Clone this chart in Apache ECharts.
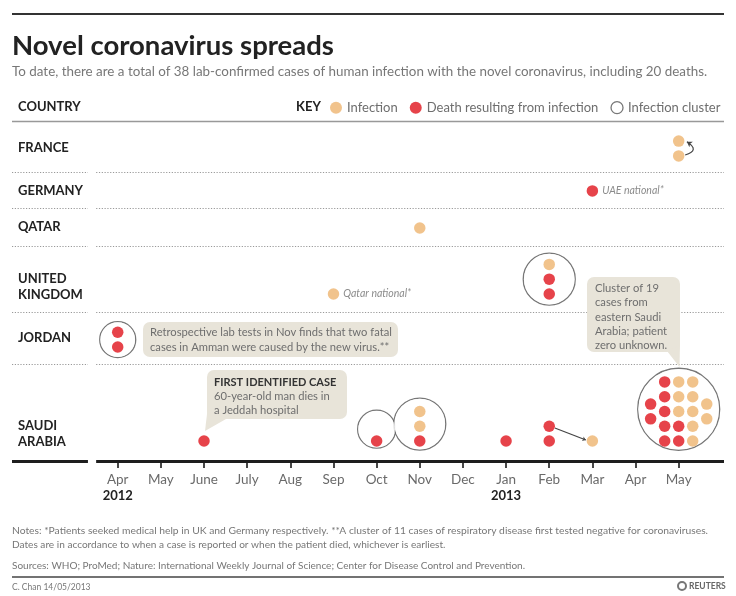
<!DOCTYPE html>
<html><head><meta charset="utf-8">
<script src="https://cdn.jsdelivr.net/npm/echarts@6/dist/echarts.min.js"></script>
<style>html,body{margin:0;padding:0;background:#fff}#c{width:736px;height:596px}</style>
</head><body><div id="c"></div>
<script>
// ---------------- DATA ----------------
const months = ['Apr','May','June','July','Aug','Sep','Oct','Nov','Dec','Jan','Feb','Mar','Apr','May'];
const yearLabels = ['2012','','','','','','','','','2013','','','',''];
const countries = ['FRANCE','GERMANY','QATAR','UNITED\nKINGDOM','JORDAN','SAUDI\nARABIA'];
// each case: [country index, month index (0 = Apr 2012), column in stack, level in stack]
const infections = [
  [0,13,0,0],[0,13,0,1],
  [2,7,0,0],
  [3,5,0,0],[3,10,0,2],
  [5,7,0,1],[5,7,0,2],[5,11,0,0],
  [5,13,0,2],[5,13,0,3],[5,13,0,4],
  [5,13,1,0],[5,13,1,1],[5,13,1,2],[5,13,1,3],[5,13,1,4],
  [5,13,2,1.5],[5,13,2,2.5]
];
const deaths = [
  [1,11,0,0],
  [3,10,0,0],[3,10,0,1],
  [4,0,0,0],[4,0,0,1],
  [5,2,0,0],[5,6,0,0],[5,7,0,0],[5,9,0,0],[5,10,0,0],[5,10,0,1],
  [5,13,-2,1.5],[5,13,-2,2.5],
  [5,13,-1,0],[5,13,-1,1],[5,13,-1,2],[5,13,-1,3],[5,13,-1,4],
  [5,13,0,0],[5,13,0,1]
];
// infection clusters: [country index, month index, centre level]
const clusters = [[4,0,0.5],[3,10,1],[5,6,0.8],[5,7,1.15],[5,13,2.15]];
// notes attached to single cases: [series, case index, text]
const caseNotes = [['death',0,'UAE national*'],['infection',3,'Qatar national*']];
const title = 'Novel coronavirus spreads';
const subtitle = 'To date, there are a total of 38 lab-confirmed cases of human infection with the novel coronavirus, including 20 deaths.';
const notes1 = 'Notes: *Patients seeked medical help in UK and Germany respectively. **A cluster of 11 cases of respiratory disease first tested negative for coronaviruses.';
const notes2 = 'Dates are in accordance to when a case is reported or when the patient died, whichever is earliest.';
const sources = 'Sources: WHO; ProMed; Nature: International Weekly Journal of Science; Center for Disease Control and Prevention.';
const credit = 'C. Chan 14/05/2013';

// ---------------- LAYOUT ----------------
const rowBase = [20.64, 18.27, 15.76, 11.3, 7.71, 1.35];
const labelLevel = [21.22, 18.27, 15.81, 11.76, 8.32, 1.83];
const separators = [19.51, 17.1, 14.55, 10.03, 6.54];
const clusterSizes = [36, 52, 38, 52, 82];
const colStep = 0.325;
const XMIN = -2.45, XMAX = 14.05, GAP_L = -0.69, GAP_R = -0.5;
const ORANGE = '#EDB46F', RED = '#E0141D', BOX = '#E8E4D9', GREY = '#6e6e6e';
const F = 'Lato, "Open Sans", sans-serif';

function pt(c) { return [c[1] + c[2]*colStep, rowBase[c[0]] + c[3]]; }
function noteFor(kind, i) {
  const n = caseNotes.find(d => d[0] === kind && d[1] === i);
  return n ? {show:true, position:'right', distance:4, formatter:n[2], color:GREY,
    fontSize:10.5, fontStyle:'italic', fontFamily:F} : {show:false};
}
const infData = infections.map((c,i) => ({value:pt(c), label:noteFor('infection',i)}));
const deathData = deaths.map((c,i) => ({value:pt(c), label:noteFor('death',i)}));
const clusterData = clusters.map(c => [c[1], rowBase[c[0]] + c[2]]);

const sepLines = [];
separators.concat([0]).forEach(y => {
  sepLines.push([{coord:[XMIN,y]},{coord:[GAP_L,y]}]);
  sepLines.push([{coord:[GAP_R,y]},{coord:[XMAX,y]}]);
});
const monthIdx = months.map((m,i)=>i);

const chart = echarts.init(document.getElementById('c'), null, {renderer:'canvas'});
const option = {
  animation:false,
  backgroundColor:'#fff',
  textStyle:{fontFamily:F},
  grid:{left:12, right:12, top:121, bottom:135, containLabel:false},
  legend:{
    left:330, top:101, padding:0, itemWidth:12, itemHeight:12, itemGap:12, selectedMode:false,
    textStyle:{fontSize:13, color:GREY, fontFamily:F},
    data:[
      {name:'Infection', icon:'circle', itemStyle:{color:ORANGE}},
      {name:'Death resulting from infection', icon:'circle', itemStyle:{color:RED}},
      {name:'Infection cluster', icon:'circle', itemStyle:{color:'#fff', borderColor:'#555', borderWidth:1.3}}
    ]
  },
  xAxis:{
    type:'value', min:XMIN, max:XMAX,
    axisLine:{show:false}, splitLine:{show:false},
    axisTick:{show:true, customValues:monthIdx, length:7, lineStyle:{color:'#333', width:1.8}},
    axisLabel:{
      customValues:monthIdx, margin:11, color:'#6a6a6a', fontSize:13.5, fontFamily:F, lineHeight:16,
      formatter:v => yearLabels[v] ? months[v] + '\n{y|' + yearLabels[v] + '}' : months[v],
      rich:{y:{fontWeight:'bold', color:'#222', fontSize:13, fontFamily:F, lineHeight:16}}
    }
  },
  yAxis:{
    type:'value', min:0, max:23,
    axisLine:{show:false}, splitLine:{show:false}, axisTick:{show:false},
    axisLabel:{
      inside:true, margin:6, customValues:labelLevel,
      formatter:v => countries[labelLevel.indexOf(v)] || '',
      fontWeight:'bold', fontSize:13, color:'#222', fontFamily:F, lineHeight:16, align:'left'
    }
  },
  series:[
    {type:'line', data:[], silent:true, z:1,
     markLine:{silent:true, symbol:['none','none'], label:{show:false},
       lineStyle:{type:[1.2,1.6], color:'#999', width:1},
       data:sepLines.slice(0, separators.length*2)}},
    {type:'line', data:[], silent:true, z:6,
     markLine:{silent:true, symbol:['none','none'], label:{show:false},
       lineStyle:{type:'solid', color:'#1e1e1e', width:3},
       data:sepLines.slice(separators.length*2)}},
    {name:'Infection cluster', type:'scatter', z:2, silent:true, data:clusterData,
     symbolSize:(v,p)=>clusterSizes[p.dataIndex],
     itemStyle:{color:'#fff', borderColor:'#555', borderWidth:1.3}},
    {type:'scatter', z:3, silent:true, data:clusterData,
     symbolSize:(v,p)=>clusterSizes[p.dataIndex]-1.4,
     itemStyle:{color:'#fff', borderWidth:0}},
    {type:'lines', coordinateSystem:'cartesian2d', z:4, silent:true,
     symbol:['none','arrow'], symbolSize:5,
     lineStyle:{color:'#444', width:1.2, opacity:1},
     data:[
       {coords:[[13.15, rowBase[0]+0.06],[13.19, rowBase[0]+0.95]], lineStyle:{curveness:-1.1}},
       {coords:[[10.13, rowBase[5]+0.88],[10.85, rowBase[5]+0.07]], lineStyle:{curveness:0}, symbolSize:3.5}
     ]},
    {name:'Infection', type:'scatter', z:5, silent:true, symbolSize:11.5, data:infData,
     itemStyle:{color:ORANGE}},
    {name:'Death resulting from infection', type:'scatter', z:5, silent:true, symbolSize:11.5, data:deathData,
     itemStyle:{color:RED}}
  ],
  graphic:[
    {type:'line', shape:{x1:12,y1:14,x2:724,y2:14}, style:{stroke:'#333', lineWidth:2}},
    {type:'text', x:12, y:46, style:{text:title, font:'bold 27.5px '+F, fill:'#222', verticalAlign:'middle'}},
    {type:'text', x:12, y:72, style:{text:subtitle, font:'13.4px '+F, fill:'#777', verticalAlign:'middle'}},
    {type:'text', x:18, y:107, style:{text:'COUNTRY', font:'bold 13px '+F, fill:'#222', verticalAlign:'middle'}},
    {type:'text', x:296, y:107, style:{text:'KEY', font:'bold 13px '+F, fill:'#222', verticalAlign:'middle'}},
    {type:'line', shape:{x1:12,y1:121.5,x2:724,y2:121.5}, style:{stroke:'#999', lineWidth:1.5}},
    // Jordan callout
    {type:'rect', shape:{x:143,y:322,width:255,height:35,r:7}, style:{fill:BOX}, z:10},
    {type:'text', x:150, y:324.5, z:11, style:{text:'Retrospective lab tests in Nov finds that two fatal\ncases in Amman were caused by the new virus.**',
      font:'11.2px '+F, lineHeight:15, fill:GREY, verticalAlign:'top'}},
    // first case callout
    {type:'rect', shape:{x:207,y:370,width:140,height:49,r:7}, style:{fill:BOX}, z:10},
    {type:'polygon', shape:{points:[[207.5,410],[226,419],[205,431]]}, style:{fill:BOX}, z:10},
    {type:'text', x:214, y:382, z:11, style:{text:'FIRST IDENTIFIED CASE', font:'bold 11px '+F, fill:'#333', verticalAlign:'middle'}},
    {type:'text', x:214, y:389, z:11, style:{text:'60-year-old man dies in\na Jeddah hospital', font:'11.2px '+F, lineHeight:14.5, fill:GREY, verticalAlign:'top'}},
    // cluster callout
    {type:'rect', shape:{x:587,y:277,width:93,height:75,r:7}, style:{fill:BOX}, z:10},
    {type:'polygon', shape:{points:[[667,351],[680,345],[679.5,367]]}, style:{fill:BOX}, z:10},
    {type:'text', x:595, y:281, z:11, style:{text:'Cluster of 19\ncases from\neastern Saudi\nArabia; patient\nzero unknown.', font:'11.2px '+F, lineHeight:14.4, fill:GREY, verticalAlign:'top'}},
    // notes
    {type:'text', x:12, y:531, style:{text:notes1, font:'10.3px '+F, fill:'#777', verticalAlign:'middle'}},
    {type:'text', x:12, y:545, style:{text:notes2, font:'10.1px '+F, fill:'#777', verticalAlign:'middle'}},
    {type:'text', x:12, y:566, style:{text:sources, font:'10px '+F, fill:'#777', verticalAlign:'middle'}},
    {type:'line', shape:{x1:12,y1:577,x2:724,y2:577}, style:{stroke:'#444', lineWidth:1.5}},
    {type:'text', x:12, y:587, style:{text:credit, font:'8.5px '+F, fill:'#777', verticalAlign:'middle'}},
    {type:'circle', shape:{cx:682,cy:586,r:4}, style:{fill:'none', stroke:'#777', lineWidth:2}},
    {type:'text', x:689, y:586, style:{text:'REUTERS', font:'bold 8.5px '+F, fill:'#666', verticalAlign:'middle'}}
  ]
};
chart.setOption(option);
</script></body></html>
